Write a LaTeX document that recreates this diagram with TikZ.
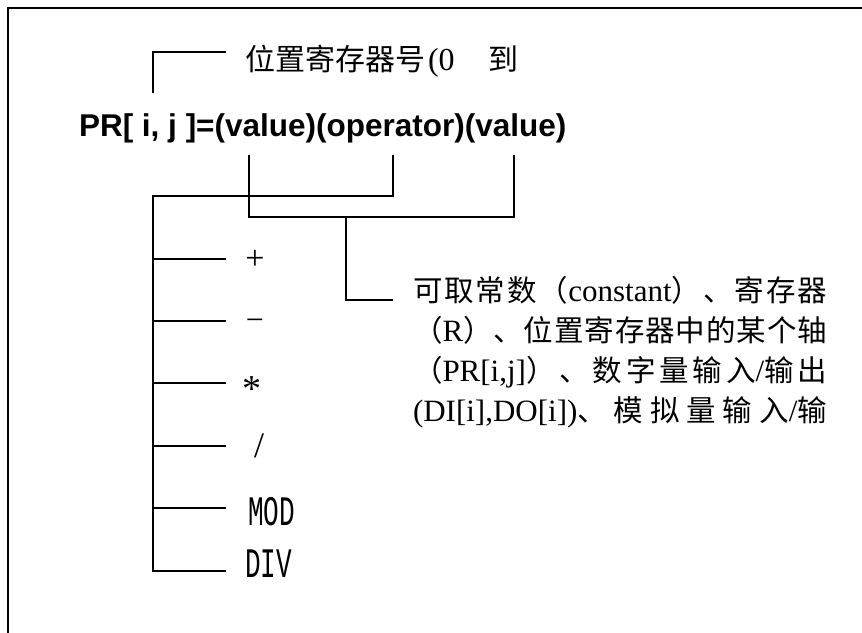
\documentclass[tikz,border=0pt]{standalone}
\usepackage{fontspec}
\setmainfont{Liberation Serif}
\setsansfont{Liberation Sans}
\setmonofont{Liberation Mono}
\newfontfamily\cjkfont{Noto Sans CJK SC}
\newcommand\cj[1]{{\cjkfont\fontsize{29.5}{32}\selectfont #1}}
\newcommand\jline[1]{\makebox[414pt][s]{#1}}
\begin{document}
\begin{tikzpicture}[x=1pt,y=-1pt,
  conn/.style={line width=1.8pt},
  lbl/.style={inner sep=0pt, outer sep=0pt},
  desc/.style={lbl, anchor=base west, font=\fontsize{31}{34}\selectfont},
  oplbl/.style={lbl, anchor=base},
  wordop/.style={lbl, anchor=base west}]
\useasboundingbox (0,0) rectangle (862,632);
\fill[white] (0,0) rectangle (862,632);
% frame
\draw[line width=2.5pt] (8,640) -- (8,8) -- (870,8);

% main expression
\node[lbl, anchor=base west, font=\sffamily\bfseries\fontsize{31.5}{36}\selectfont] (expr) at (79,136) {PR[ i, j ]=(value)(operator)(value)};

% top label
\node[lbl, anchor=base west, font=\fontsize{30}{34}\selectfont] (reg) at (245,70)
  {{\cjkfont 位置寄存器号}\hspace{3pt}{\fontsize{32}{34}\selectfont (0}\hspace{34pt}{\cjkfont 到}};

% operator labels
\node[oplbl, font=\fontsize{34}{36}\selectfont] (opplus) at (255,269) {+};
\node[oplbl, font=\fontsize{32}{36}\selectfont] (opminus) at (255,330) {−};
\node[oplbl, font=\fontsize{38}{40}\selectfont] (optimes) at (252,401) {*};
\node[oplbl, font=\fontsize{36}{40}\selectfont] (opdiv) at (259,457) {/};
\node[wordop] (opmod) at (248,525) {\scalebox{0.62}[1]{\ttfamily\fontsize{42}{44}\selectfont MOD}};
\node[wordop] (opdivw) at (245,577) {\scalebox{0.62}[1]{\ttfamily\fontsize{42}{44}\selectfont DIV}};

% description
\node[desc] (d1) at (413,301) {\jline{\cj{可\hfil 取\hfil 常\hfil 数\hfil （}constant\cj{）\hfil 、\hfil 寄\hfil 存\hfil 器}}};
\node[desc] (d2) at (413,341) {\jline{\cj{（}R\cj{）\hfil 、\hfil 位\hfil 置\hfil 寄\hfil 存\hfil 器\hfil 中\hfil 的\hfil 某\hfil 个\hfil 轴}}};
\node[desc] (d3) at (413,381) {\jline{\cj{（}PR[i,j]\cj{）\hfil 、\hfil 数\hfil 字\hfil 量\hfil 输\hfil 入}/\cj{输\hfil 出}}};
\node[desc] (d4) at (413,421) {\jline{(DI[i],DO[i])\cj{、\hfil 模\hfil 拟\hfil 量\hfil 输\hfil 入}/\cj{输}}};

% coordinates
\coordinate (tbBot) at (153,93);
\coordinate (tbEnd) at (226,52);
\coordinate (opTop) at (393,155);
\coordinate (listTop) at (153,196);
\coordinate (listBot) at (153,571);
\coordinate (v1Top) at (249,155);
\coordinate (v2Top) at (514,155);
\coordinate (valY) at (249,217);
\coordinate (brTop) at (346,217);
\coordinate (brEnd) at (393,300);

% connectors
\draw[conn] (tbBot) |- (tbEnd);
\draw[conn] (opTop) |- (listTop) -- (listBot) -- (226,571);
\foreach \yy in {259,321,383,446,508}
  \draw[conn] (153,\yy) -- (226,\yy);
\draw[conn] (v1Top) -- (valY) -| (v2Top);
\draw[conn] (brTop) |- (brEnd);
\end{tikzpicture}
\end{document}
